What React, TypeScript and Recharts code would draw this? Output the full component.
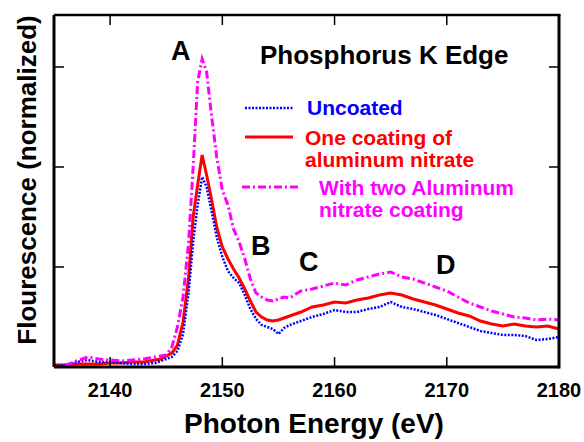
import { Line, LineChart, XAxis, YAxis } from 'recharts';

const energies = [
  2135, 2136, 2137, 2138, 2139, 2140, 2141, 2142, 2143, 2144, 2144.5, 2145, 2145.5, 2146, 2146.5, 2147,
  2147.4, 2147.8, 2148.2, 2148.6, 2149, 2149.5, 2150, 2150.5, 2151, 2151.5, 2152, 2152.5, 2153, 2153.5,
  2154, 2154.5, 2155, 2155.5, 2156, 2157, 2158, 2159, 2160, 2161, 2162, 2163, 2164, 2165, 2166, 2167,
  2168, 2169, 2170, 2171, 2172, 2173, 2174, 2175, 2176, 2177, 2178, 2179, 2180,
];

const uncoated = [
  0.01, 0.02, 0.05, 0.07, 0.05, 0.05, 0.04, 0.03, 0.03, 0.04, 0.06, 0.08, 0.1, 0.16, 0.33, 0.75,
  1.25, 1.62, 1.9, 1.8, 1.58, 1.3, 1.1, 0.96, 0.89, 0.84, 0.72, 0.58, 0.48, 0.42,
  0.4, 0.38, 0.33, 0.39, 0.42, 0.46, 0.5, 0.53, 0.57, 0.55, 0.55, 0.58, 0.6, 0.65, 0.6, 0.58,
  0.55, 0.52, 0.48, 0.44, 0.4, 0.36, 0.34, 0.32, 0.32, 0.31, 0.27, 0.28, 0.3,
];

const oneCoat = [
  0.02, 0.02, 0.03, 0.03, 0.03, 0.04, 0.04, 0.05, 0.05, 0.07, 0.08, 0.11, 0.14, 0.22, 0.45, 0.9,
  1.5, 1.82, 2.12, 1.92, 1.7, 1.4, 1.2, 1.08, 0.98, 0.89, 0.78, 0.66, 0.55, 0.5,
  0.47, 0.46, 0.47, 0.49, 0.51, 0.55, 0.6, 0.62, 0.65, 0.64, 0.67, 0.69, 0.72, 0.74, 0.72, 0.68,
  0.65, 0.62, 0.58, 0.54, 0.51, 0.46, 0.43, 0.41, 0.43, 0.41, 0.4, 0.41, 0.38,
];

const twoCoats = [
  null, 0.01, 0.06, 0.1, 0.08, 0.07, 0.06, 0.07, 0.08, 0.1, 0.11, 0.12, 0.2, 0.4, 0.7, 1.25,
  2.0, 2.85, 3.08, 2.95, 2.55, 2.1, 1.77, 1.62, 1.38, 1.25, 1.08, 0.88, 0.74, 0.7,
  0.67, 0.66, 0.68, 0.7, 0.69, 0.76, 0.78, 0.81, 0.84, 0.82, 0.87, 0.9, 0.93, 0.95, 0.9, 0.88,
  0.84, 0.8, 0.76, 0.7, 0.64, 0.6, 0.56, 0.53, 0.5, 0.49, 0.47, 0.48, 0.47,
];

const xTicks = [2140, 2150, 2160, 2170, 2180];
const innerXTicks = [2140, 2150, 2160, 2170];
const yTicks = [1, 2, 3];

const X_MIN = 2135;
const X_MAX = 2180;
const Y_MAX = 3.52;

// plot box (chart margins + axis bands)
const PLOT = { left: 54, top: 15, right: 559, bottom: 367 };
const px = (v: number) => PLOT.left + ((v - X_MIN) / (X_MAX - X_MIN)) * (PLOT.right - PLOT.left);
const py = (v: number) => PLOT.bottom - (v / Y_MAX) * (PLOT.bottom - PLOT.top);

const rows = energies.map((e, i) => ({ e, uncoated: uncoated[i], one: oneCoat[i], two: twoCoats[i] }));

const font = "'Liberation Sans', Arial, Helvetica, sans-serif";

function BottomTick({ x, y, payload }: any) {
  return (
    <text x={x} y={y + 30} textAnchor="middle" fontSize={20} fontWeight="bold" fontFamily={font} fill="#000">
      {payload.value}
    </text>
  );
}

function LeftTick({ x, y }: any) {
  return <line x1={x} y1={y} x2={x + 10} y2={y} stroke="#000" strokeWidth={1.5} />;
}

// top/right edges and the inward ticks that Recharts won't draw here
function Frame() {
  return (
    <svg style={{ position: 'absolute', left: 0, top: 0, pointerEvents: 'none' }} width={584} height={442}>
      <line x1={PLOT.left} y1={PLOT.top} x2={PLOT.right + 1.5} y2={PLOT.top} stroke="#000" strokeWidth={2.5} />
      <line x1={PLOT.right} y1={PLOT.top} x2={PLOT.right} y2={PLOT.bottom + 1.5} stroke="#000" strokeWidth={3} />
      {innerXTicks.map((t) => (
        <g key={t}>
          <line x1={px(t)} y1={PLOT.bottom} x2={px(t)} y2={PLOT.bottom - 10} stroke="#000" strokeWidth={1.5} />
          <line x1={px(t)} y1={PLOT.top} x2={px(t)} y2={PLOT.top + 10} stroke="#000" strokeWidth={1.5} />
        </g>
      ))}
      {yTicks.map((t) => (
        <line key={t} x1={PLOT.right} y1={py(t)} x2={PLOT.right - 10} y2={py(t)} stroke="#000" strokeWidth={1.5} />
      ))}
    </svg>
  );
}

function Label({ x, y, size, color = '#000', children }: { x: number; y: number; size: number; color?: string; children: any }) {
  return (
    <div style={{ position: 'absolute', left: x, top: y, fontSize: size, color, fontWeight: 'bold', fontFamily: font, lineHeight: 1, whiteSpace: 'nowrap' }}>
      {children}
    </div>
  );
}

function Swatch({ x, y, w, color, dash, width }: { x: number; y: number; w: number; color: string; dash?: string; width: number }) {
  return (
    <svg style={{ position: 'absolute', left: x, top: y - 4 }} width={w} height={8}>
      <line x1={0} y1={4} x2={w} y2={4} stroke={color} strokeWidth={width} strokeDasharray={dash} />
    </svg>
  );
}

export default function App() {
  return (
    <div style={{ position: 'absolute', left: 0, top: 0, width: 584, height: 442, background: '#fff' }}>
      <LineChart width={584} height={442} data={rows} margin={{ top: 15, right: 25, bottom: 45, left: 44 }}>
        <XAxis
          dataKey="e"
          type="number"
          domain={[X_MIN, X_MAX]}
          allowDataOverflow
          ticks={xTicks}
          interval={0}
          height={30}
          tickSize={0}
          tickMargin={0}
          tickLine={false}
          axisLine={{ stroke: '#000', strokeWidth: 3 }}
          tick={<BottomTick />}
        />
        <YAxis
          type="number"
          domain={[0, Y_MAX]}
          allowDataOverflow
          ticks={yTicks}
          interval={0}
          width={10}
          tickSize={0}
          tickMargin={0}
          tickLine={false}
          axisLine={{ stroke: '#000', strokeWidth: 3 }}
          tick={<LeftTick />}
        />
        <Line type="linear" dataKey="one" stroke="#ff0000" strokeWidth={3} dot={false} isAnimationActive={false} />
        <Line type="linear" dataKey="uncoated" stroke="#0000ff" strokeWidth={2.5} strokeDasharray="2 1.5" dot={false} isAnimationActive={false} />
        <Line type="linear" dataKey="two" stroke="#ff00ff" strokeWidth={3} strokeDasharray="8 3 2 3" dot={false} isAnimationActive={false} />
      </LineChart>

      <Frame />

      <div style={{ position: 'absolute', left: 27, top: 180, width: 0, height: 0 }}>
        <div style={{ position: 'absolute', left: 0, top: 0, transform: 'translate(-50%, -50%) rotate(-90deg)', fontSize: 26, fontWeight: 'bold', fontFamily: font, whiteSpace: 'nowrap', lineHeight: 1 }}>
          Flourescence (normalized)
        </div>
      </div>
      <div style={{ position: 'absolute', left: 0, width: 584, top: 410, paddingLeft: 22, textAlign: 'center', fontSize: 28, fontWeight: 'bold', fontFamily: font, lineHeight: 1 }}>
        Photon Energy (eV)
      </div>

      <Label x={260} y={42} size={26}>Phosphorus K Edge</Label>
      <Label x={171} y={38} size={27}>A</Label>
      <Label x={251} y={233} size={27}>B</Label>
      <Label x={299} y={249} size={27}>C</Label>
      <Label x={436} y={252} size={27}>D</Label>

      <Swatch x={245} y={108} w={48} color="#0000ff" dash="2 1.5" width={2.5} />
      <Label x={307} y={97} size={21} color="#0000ff">Uncoated</Label>
      <Swatch x={245} y={137} w={48} color="#ff0000" width={3} />
      <Label x={305} y={127} size={21} color="#ff0000">One coating of</Label>
      <Label x={305} y={149} size={21} color="#ff0000">aluminum nitrate</Label>
      <Swatch x={242} y={187} w={58} color="#ff00ff" dash="8 3 2 3" width={3} />
      <Label x={319} y={177} size={21} color="#ff00ff">With two Aluminum</Label>
      <Label x={319} y={199} size={21} color="#ff00ff">nitrate coating</Label>
    </div>
  );
}
